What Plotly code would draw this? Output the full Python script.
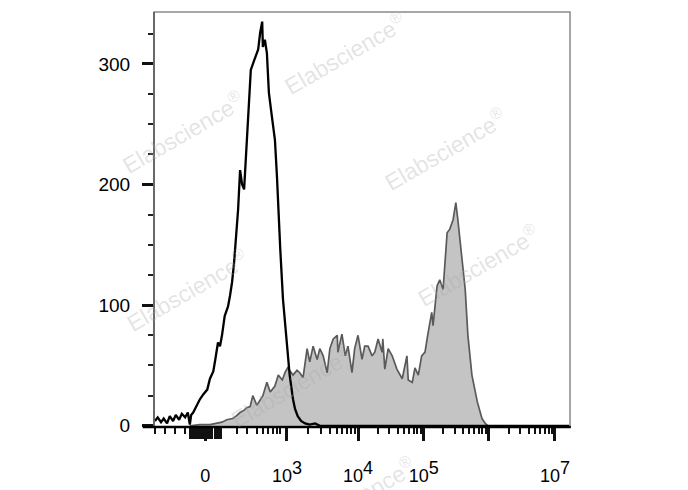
import plotly.graph_objects as go
import numpy as np

# ---------------- data (x in display/decade units of the biexponential axis) ----------------
unstained_x = [1.03, 1.07, 1.12, 1.16, 1.21, 1.25, 1.30, 1.34, 1.39, 1.43, 1.48, 1.52, 1.55, 1.57,
               1.60, 1.64, 1.70, 1.75, 1.81, 1.85, 1.90, 1.93, 1.97, 2.00, 2.03, 2.07, 2.12, 2.15,
               2.18, 2.21, 2.25, 2.27, 2.30, 2.33, 2.36, 2.40, 2.42, 2.46, 2.51, 2.57, 2.60, 2.63,
               2.64, 2.67, 2.70, 2.73, 2.78, 2.82, 2.85, 2.87, 2.90, 2.94, 2.97, 3.00, 3.04, 3.09,
               3.12, 3.16, 3.21, 3.27, 3.34, 3.42, 3.49, 4.00, 5.00, 6.00, 7.21]
unstained_y = [4, 7, 3, 6, 2, 8, 4, 9, 5, 10, 7, 11, 1, 9,
               11, 16, 22, 26, 30, 39, 45, 55, 69, 66, 75, 91, 99, 108,
               119, 135, 160, 179, 212, 200, 196, 235, 264, 295, 303, 312, 326, 335,
               314, 320, 309, 276, 254, 237, 207, 179, 146, 105, 86, 72, 42, 22,
               14, 8, 4, 2, 1, 2, 0, 0, 0, 0, 0]

stained_x = [1.55, 1.70, 1.85, 1.96, 2.03, 2.10, 2.19, 2.24, 2.30, 2.36, 2.40, 2.45, 2.49, 2.55,
             2.60, 2.64, 2.70, 2.75, 2.82, 2.87, 2.93, 2.97, 3.01, 3.09, 3.15, 3.19, 3.24, 3.30,
             3.34, 3.39, 3.45, 3.49, 3.54, 3.60, 3.64, 3.69, 3.75, 3.76, 3.82, 3.87, 3.91, 3.97,
             4.01, 4.06, 4.12, 4.16, 4.21, 4.27, 4.31, 4.36, 4.42, 4.43, 4.46, 4.51, 4.57, 4.64,
             4.72, 4.79, 4.81, 4.87, 4.91, 4.96, 5.01, 5.06, 5.10, 5.16, 5.18, 5.24, 5.28, 5.33,
             5.39, 5.43, 5.48, 5.52, 5.55, 5.61, 5.66, 5.70, 5.76, 5.84, 5.91, 5.96, 6.00]
stained_y = [0, 1, 1, 2, 3, 5, 6, 8, 11, 13, 15, 16, 25, 17,
             22, 25, 36, 28, 33, 42, 38, 44, 48, 42, 46, 44, 40, 64,
             53, 66, 55, 64, 58, 44, 64, 72, 75, 61, 76, 58, 66, 44,
             64, 75, 55, 66, 66, 58, 61, 72, 61, 72, 47, 64, 58, 47,
             39, 58, 38, 36, 48, 42, 58, 61, 75, 94, 83, 116, 121, 113,
             160, 163, 171, 185, 171, 141, 113, 75, 42, 20, 6, 2, 0]

x_tick_vals = [1.78, 3.00, 4.06, 5.04, 6.01, 7.00]
x_tick_base = ["0", "10", "10", "10", "", "10"]
x_tick_exp = ["", "3", "4", "5", "", "7"]
x_low_minor = [1.03, 1.18, 1.33, 1.48, 2.25, 2.40, 2.55, 2.64, 2.72, 2.79, 2.85, 2.90]
x_zero_block = [1.55, 1.57, 1.60, 1.62, 1.64, 1.67, 1.69, 1.72, 1.74, 1.76, 1.79, 1.81, 1.84,
                1.86, 1.88, 1.93, 1.95, 1.97, 2.00, 2.02]
y_tick_vals = [0, 100, 200, 300]

X_RANGE = [1.015, 7.224]
Y_RANGE = [-1, 343]

FONT = "Arial, Liberation Sans, sans-serif"

x_tick_text = [b + (f"<sup><span style='font-size:18px'>{e}</span></sup>" if e else "")
               for b, e in zip(x_tick_base, x_tick_exp)]

# minor ticks inside each log decade
decades = x_tick_vals[1:]
x_minor = list(x_low_minor)
for a, b in zip(decades[:-1], decades[1:]):
    for k in range(2, 10):
        x_minor.append(a + np.log10(k) * (b - a))

fig = go.Figure()
fig.add_trace(go.Scatter(x=stained_x, y=stained_y, mode="lines", fill="tozeroy",
                         fillcolor="#c4c4c4", line=dict(color="#5a5a5a", width=1.7),
                         hoverinfo="skip", showlegend=False))
fig.add_trace(go.Scatter(x=unstained_x, y=unstained_y, mode="lines",
                         line=dict(color="#000000", width=2.3),
                         hoverinfo="skip", showlegend=False))
# invisible trace to attach the overlay axis used for the dense ticks around zero
fig.add_trace(go.Scatter(x=[X_RANGE[0]], y=[0], xaxis="x2", mode="markers",
                         marker=dict(opacity=0), hoverinfo="skip", showlegend=False))

fig.update_layout(
    width=688, height=490,
    margin=dict(l=154, r=118, t=12, b=63),
    paper_bgcolor="white", plot_bgcolor="white",
    font=dict(family=FONT, color="#000000"),
    xaxis=dict(range=X_RANGE, showgrid=False, zeroline=False, showline=False,
               automargin=False,
               tickmode="array", tickvals=x_tick_vals, ticktext=x_tick_text,
               ticks="outside", ticklen=13, tickwidth=2.5, tickcolor="#111111",
               tickfont=dict(size=18, family=FONT, color="#000000"),
               ticklabelstandoff=19,
               minor=dict(tickmode="array", tickvals=x_minor, ticks="outside",
                          ticklen=6, tickwidth=1.5, tickcolor="#111111", showgrid=False)),
    xaxis2=dict(range=X_RANGE, overlaying="x", anchor="y", side="bottom",
                automargin=False,
                showgrid=False, zeroline=False, showline=False,
                tickmode="array", tickvals=x_zero_block, ticktext=[""] * len(x_zero_block),
                ticks="outside", ticklen=11, tickwidth=1.6, tickcolor="#111111",
                showticklabels=False),
    yaxis=dict(range=Y_RANGE, showgrid=False, zeroline=False, showline=False,
               automargin=False,
               tickmode="array", tickvals=y_tick_vals,
               ticks="outside", ticklen=11, tickwidth=2.5, tickcolor="#111111",
               tickfont=dict(size=19, family=FONT, color="#000000"),
               ticklabelstandoff=8,
               minor=dict(dtick=25, tick0=0, ticks="outside", ticklen=5,
                          tickwidth=1.5, tickcolor="#222222", showgrid=False)),
)

# frame
fig.add_shape(type="rect", xref="paper", yref="paper", x0=0, x1=1, y0=0, y1=1,
              line=dict(color="#8a8a8a", width=1.5), layer="above")
fig.add_shape(type="line", xref="paper", yref="paper", x0=0, x1=0, y0=0, y1=1,
              line=dict(color="#555555", width=1.5), layer="above")
fig.add_shape(type="line", xref="paper", yref="paper", x0=-0.027, x1=1.002, y0=0, y1=0,
              line=dict(color="#000000", width=2.5), layer="above")

# watermarks (centres in paper coordinates)
wm = [(0.07, 0.71), (0.46, 0.90), (0.70, 0.67), (0.78, 0.39), (0.08, 0.33), (0.33, 0.10),
      (0.48, -0.17)]
for px, py in wm:
    fig.add_annotation(x=px, y=py, xref="paper", yref="paper", showarrow=False,
                       xanchor="center", yanchor="middle",
                       text="Elabscience<sup>®</sup>", textangle=-30,
                       font=dict(size=23, family=FONT, color="rgba(170,170,170,0.33)"))

fig.write_html("out.html", post_script="document.body.style.margin='0';",
               config={"displayModeBar": False})
